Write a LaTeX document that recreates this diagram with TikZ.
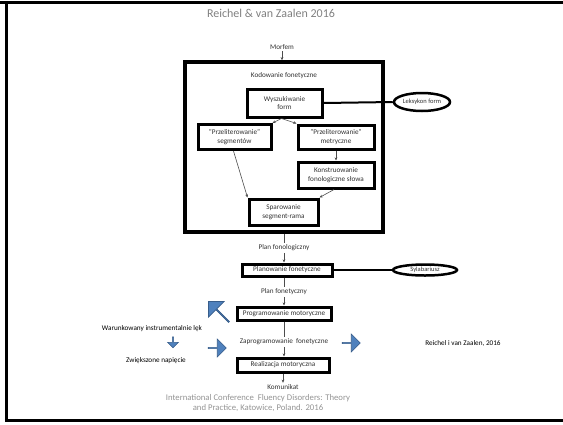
\documentclass[tikz,border=0pt]{standalone}
\usepackage{fontspec}
\setmainfont{Carlito}
\usetikzlibrary{shapes.geometric,shapes.arrows,arrows.meta}
\definecolor{arrowblue}{RGB}{79,129,189}
\definecolor{arrowedge}{RGB}{56,93,138}
\definecolor{labelgray}{RGB}{50,50,50}
\begin{document}
\begin{tikzpicture}[x=1pt,y=-1pt,
  lblfont/.style={font=\fontsize{7.2}{8.4}\selectfont},
  box/.style={draw, line width=3pt, align=center, lblfont, text=labelgray, inner sep=1pt},
  lbl/.style={lblfont, text=labelgray, inner sep=1.5pt},
  conn/.style={draw=gray!60!black, line width=0.6pt, -{Stealth[length=3.2pt,width=2.8pt]}},
  plainconn/.style={draw=gray!60!black, line width=0.6pt},
  link/.style={draw, line width=2pt},
  ell/.style={ellipse, draw, line width=2.5pt, font=\fontsize{6.5}{7.5}\selectfont, text=labelgray, inner sep=0pt},
  blk/.style={single arrow, draw=arrowedge, fill=arrowblue, line width=0.6pt, inner sep=0pt}
]
\useasboundingbox (0,0) rectangle (563,424);
% frame
\draw[line width=3.5pt] (0,2.5) -- (563,2.5);
\draw[line width=3.5pt] (6.5,0.8) -- (6.5,422);
\draw[line width=3.5pt] (4.8,420.5) -- (563,420.5);

\node[font=\fontsize{12}{14}\selectfont, text=gray] (title) at (271,13) {Reichel \& van Zaalen 2016};
\node[lbl] (morfem) at (282,47) {Morfem};

\node[draw, line width=3.5pt, minimum width=198pt, minimum height=170pt, inner sep=0pt] (big) at (284,147) {};
\node[lbl] (kod) at (284,76) {Kodowanie fonetyczne};
\node[box, minimum width=75pt, minimum height=28pt] (wysz) at (284.5,103) {Wyszukiwanie\\form};
\node[box, minimum width=73pt, minimum height=25pt] (seg) at (234.5,137) {"Przeliterowanie"\\segmentów};
\node[box, minimum width=76pt, minimum height=24pt] (met) at (336,137) {"Przeliterowanie"\\metryczne};
\node[box, minimum width=76pt, minimum height=26pt] (kon) at (336,175) {Konstruowanie\\fonologiczne słowa};
\node[box, minimum width=69pt, minimum height=26pt] (spar) at (283.5,212) {Sparowanie\\segment-rama};
\node[ell, minimum width=56pt, minimum height=18pt] (leks) at (422,102) {Leksykon form};

\draw[conn] (morfem.south) -- (morfem.south |- big.north);
\draw[link] (wysz.east) -- (leks.west);
\draw[conn] ([xshift=-3pt]wysz.south) -- (seg.north east);
\draw[conn] ([xshift=-3pt]wysz.south) -- (met.north west);
\draw[conn] (met.south) -- (kon.north);
\draw[conn] ([xshift=-1pt]seg.south) -- (spar.north west);
\draw[conn] ([xshift=-2pt]kon.south) -- (spar.north east);

\node[lbl] (planfon) at (284,248) {Plan fonologiczny};
\node[box, minimum width=90pt, minimum height=12pt] (plan) at (287,270) {Planowanie fonetyczne};
\node[ell, minimum width=64pt, minimum height=11pt] (syl) at (425,270) {Sylabariusz};
\node[lbl] (planfonet) at (284,292) {Plan fonetyczny};
\node[box, minimum width=94pt, minimum height=13pt] (prog) at (284,313.5) {Programowanie motoryczne};
\node[lbl] (zap) at (284,342) {Zaprogramowanie\ \ fonetyczne};
\node[box, minimum width=92pt, minimum height=14pt] (real) at (283,365) {Realizacja motoryczna};
\node[lbl] (kom) at (283,387) {Komunikat};

\draw[plainconn] (big.south) -- (planfon.north);
\draw[conn] (planfon.south) -- (planfon.south |- plan.north);
\draw[link] (plan.east) -- (syl.west);
\draw[plainconn] (planfonet.north |- plan.south) -- (planfonet.north);
\draw[conn] (planfonet.south) -- (planfonet.south |- prog.north);
\draw[plainconn] (prog.south) -- (zap.north);
\draw[conn] (zap.south) -- (zap.south |- real.north);
\draw[conn] (real.south) -- (kom.north);

% side labels
\node[lbl, text=black] (war) at (152,329) {Warunkowany instrumentalnie lęk};
\node[lbl, text=black] (zwi) at (156,361) {Zwiększone napięcie};
\node[lbl, text=black] (ref) at (463,343) {Reichel i van Zaalen, 2016};

% block arrows
\node[blk, minimum height=29pt, minimum width=22pt, single arrow head extend=5pt, rotate=135] (b1) at (219,312) {};
\node[blk, minimum height=18pt, minimum width=18pt, single arrow head extend=4.5pt] (b2) at (217,348) {};
\node[blk, minimum height=18pt, minimum width=18pt, single arrow head extend=4.5pt] (b3) at (351,343) {};
\node[blk, minimum height=11pt, minimum width=11pt, single arrow head extend=2.5pt, rotate=-90] (b4) at (173,342) {};

\node[font=\fontsize{8.7}{10.2}\selectfont, text=gray!85, align=center] (conf) at (258,403) {International Conference\ \ Fluency Disorders: Theory\\and Practice, Katowice, Poland. 2016};
\end{tikzpicture}
\end{document}
